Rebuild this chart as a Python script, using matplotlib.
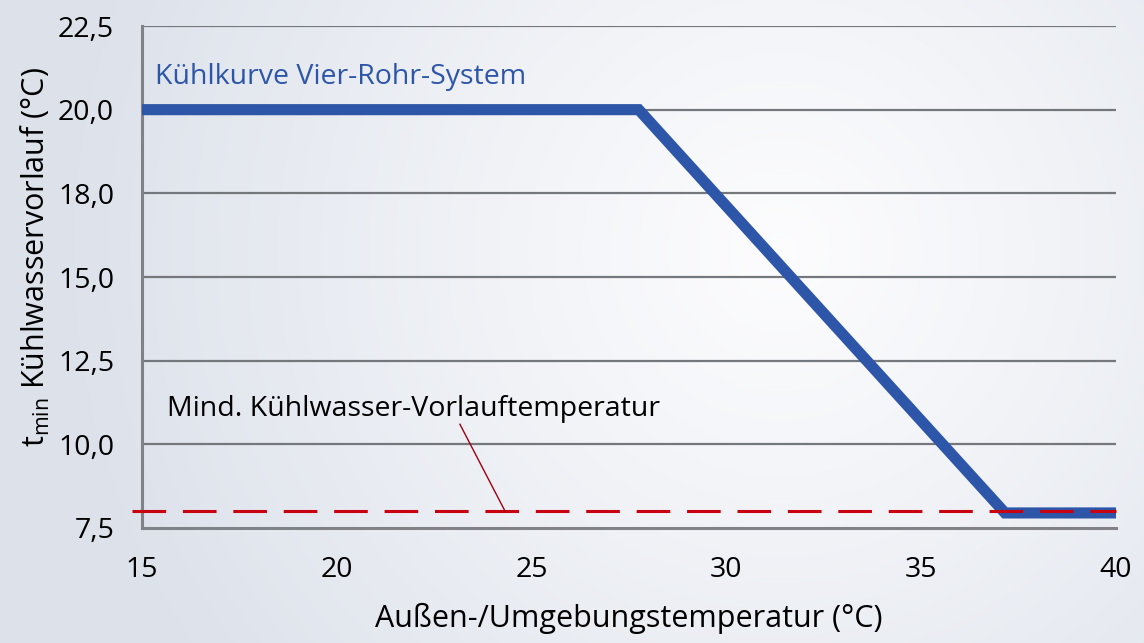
import numpy as np
import matplotlib.pyplot as plt

# --- Data ---
curve_x = [15, 27.75, 37.15, 40]
curve_y = [20.0, 20.0, 7.95, 7.95]
min_x = [14.75, 40]
min_y = [8.0, 8.0]
y_ticks = [7.5, 10.0, 12.5, 15.0, 17.5, 20.0, 22.5]
y_labels = ['7,5', '10,0', '12,5', '15,0', '18,0', '20,0', '22,5']
x_ticks = [15, 20, 25, 30, 35, 40]
x_labels = ['15', '20', '25', '30', '35', '40']

plt.rcParams['font.family'] = ['Open Sans', 'DejaVu Sans']

W, H, dpi = 1144, 643, 100
fig = plt.figure(figsize=(W / dpi, H / dpi), dpi=dpi)

# radial background gradient
bg = fig.add_axes([0, 0, 1, 1], zorder=-10)
yy, xx = np.mgrid[0:H, 0:W]
r = np.sqrt((xx - 780) ** 2 + (yy - 250) ** 2) / 720.0
r = np.clip(r, 0, 1)
c_in = np.array([0.99, 0.99, 0.995])
c_out = np.array([0.865, 0.885, 0.92])
img = c_in + (c_out - c_in) * r[..., None] ** 1.1
bg.imshow(img, aspect='auto', extent=[0, 1, 0, 1])
bg.axis('off')

ax = fig.add_axes([142 / W, 1 - 528 / H, (1116 - 142) / W, (528 - 26) / H])
ax.patch.set_alpha(0)
ax.set_xlim(15, 40)
ax.set_ylim(7.5, 22.5)

for v in y_ticks[1:]:
    ax.axhline(v, color='#74777c', lw=1.6, zorder=1)

ax.plot(curve_x, curve_y, color='#2d56a8', lw=8, solid_joinstyle='miter',
        solid_capstyle='butt', zorder=3)
ax.plot(min_x, min_y, color='#c8000f', lw=2.2, dashes=(11, 5.5), zorder=4,
        clip_on=False)

ax.text(15.33, 20.97, 'Kühlkurve Vier-Rohr-System', color='#2d56a8', fontsize=20.5,
        va='center')
ax.text(15.65, 11.05, 'Mind. Kühlwasser-Vorlauftemperatur', color='black', fontsize=20.5,
        va='center')
ax.plot([23.16, 24.32], [10.6, 8.0], color='#a00010', lw=1.0, zorder=4)

for s in ['top', 'right']:
    ax.spines[s].set_visible(False)
for s in ['left', 'bottom']:
    ax.spines[s].set_color('#808287')
    ax.spines[s].set_linewidth(2.2)

ax.set_xticks(x_ticks)
ax.set_xticklabels(x_labels, fontsize=20.5)
ax.set_yticks(y_ticks)
ax.set_yticklabels(y_labels, fontsize=20.5)
ax.tick_params(axis='x', length=0, pad=20)
ax.tick_params(axis='y', length=0, pad=20)

ax.set_xlabel('Außen-/Umgebungstemperatur (°C)', fontsize=22, labelpad=14)
ax.set_ylabel(r't$_{\mathregular{min}}$ Kühlwasservorlauf (°C)', fontsize=22)
ax.yaxis.set_label_coords(-0.092, 0.54)

fig.savefig('out.png', dpi=dpi)
